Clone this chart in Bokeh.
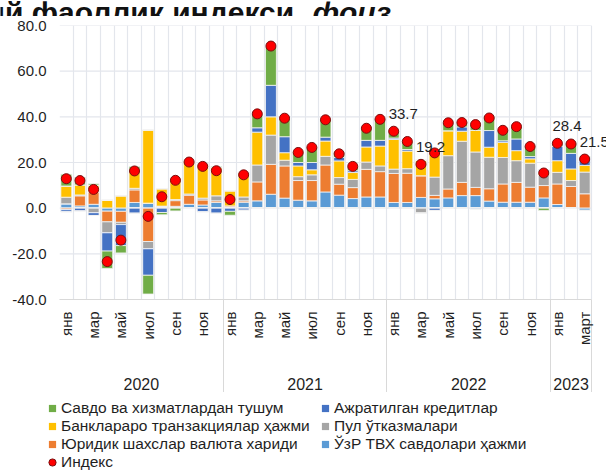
import math
import numpy as np
from bokeh.plotting import figure
from bokeh.models import (ColumnDataSource, Range1d, FixedTicker, LinearAxis, Legend,
                          LegendItem, LabelSet, Label, PrintfTickFormatter)
from bokeh.core.properties import value
from bokeh.embed import file_html
from bokeh.resources import INLINE

# ---------------- data ----------------
title_main = "Иқтисодий фаоллик индекси,"
title_unit = "фоиз"
month_labels = ["янв", "фев", "мар", "апр", "май", "июн", "июл", "авг", "сен", "окт", "ноя", "дек"] * 3 + ["янв", "фев", "март"]
years = ["2020", "2021", "2022", "2023"]
year_counts = [12, 12, 12, 3]

savdo = [5.2, 3.3, 0.6, -7.6, -3.2, 1.2, -8.2, -1.0, -1.2, 0.0, 0.0, 0.4,
         -1.7, 0.0, 5.8, 16.7, 7.9, 4.4, 6.6, 8.0, 2.2, 1.5, 5.8, 9.6,
         3.0, 3.6, 0.0, 0.0, 3.3, 1.9, 2.9, 6.0, 4.5, 5.8, 4.4, -1.0,
         1.3, 4.3, 0.6]
ajrat = [-0.9, -1.2, -1.2, -8.0, -9.2, -2.2, -11.6, -1.9, 0.0, 0.0, -1.6, -2.2,
         -1.4, -0.9, 1.9, 13.8, 7.0, 1.5, 3.2, 1.7, 1.5, 0.8, 2.9, 2.5,
         0.6, 0.7, 0.0, -1.0, 0.0, 1.9, -0.4, 7.3, 0.7, 5.1, 1.0, 1.0,
         6.3, 6.8, 3.3]
bank = [4.9, 4.4, 2.9, 3.5, 5.4, 8.3, 32.0, 7.6, 9.5, 14.3, 15.0, 12.4,
        6.6, 10.9, 14.4, 8.0, 3.3, 4.7, 2.2, 6.7, 7.3, 3.0, 6.6, 8.7,
        13.0, 7.7, 6.8, 11.6, 10.9, 4.4, 9.5, 4.4, 6.6, 4.4, 1.9, 1.5,
        5.1, 5.1, 2.9]
pul = [2.9, 0.4, -2.0, -4.8, -1.0, 0.7, -3.2, 0.2, 0.5, 0.5, 0.8, 2.2,
       0.0, 1.7, 7.4, 12.8, 2.5, 1.7, 2.5, 3.8, 2.9, 3.6, 3.2, 2.5,
       1.9, 2.0, -2.2, 8.0, 14.6, 18.0, 15.5, 13.8, 11.6, 9.5, 10.5, 4.4,
       5.1, 2.6, 9.5]
yurid = [-0.7, 4.4, 5.5, -4.7, -4.8, 5.5, -14.6, 0.3, 2.5, 4.0, 2.2, 0.7,
         0.7, 0.6, 8.3, 13.1, 14.1, 8.6, 8.9, 11.8, 4.8, 4.8, 12.1, 11.1,
         12.7, 12.8, 9.5, 1.5, 3.9, 5.8, 3.6, 5.4, 8.0, 8.7, 6.6, 5.4,
         9.0, 9.5, 6.3]
uzr = [1.9, 1.0, 1.7, -1.3, -1.4, 2.5, 2.2, 0.4, 0.8, 1.7, 1.4, 2.5,
       0.3, 2.6, 3.2, 6.1, 4.4, 3.5, 3.2, 7.1, 5.7, 4.2, 4.9, 4.9,
       2.5, 2.5, 4.7, 4.1, 4.5, 5.5, 5.5, 3.1, 2.6, 2.6, 2.6, 4.5,
       1.6, 0.0, -1.0]
index = [12.9, 12.1, 8.2, -23.4, -14.0, 16.3, -3.6, 5.0, 12.2, 20.2, 18.3, 16.4,
         3.8, 14.6, 41.3, 71.0, 39.4, 24.4, 26.6, 38.7, 23.8, 18.3, 35.0, 38.9,
         33.7, 29.2, 19.2, 24.2, 37.4, 37.5, 36.6, 39.5, 34.1, 35.7, 27.0, 15.4,
         28.4, 28.1, 21.5]
labelled_points = [24, 26, 36, 38]

y_ticks = [-40, -20, 0, 20, 40, 60, 80]

series_names = {
    "savdo": "Савдо ва хизматлардан тушум",
    "ajrat": "Ажратилган кредитлар",
    "bank": "Банклараро транзакциялар ҳажми",
    "pul": "Пул ўтказмалари",
    "yurid": "Юридик шахслар валюта хариди",
    "uzr": "ЎзР ТВХ савдолари ҳажми",
}
series_values = {"savdo": savdo, "ajrat": ajrat, "bank": bank, "pul": pul, "yurid": yurid, "uzr": uzr}
colors = {"savdo": "#70AD47", "ajrat": "#4472C4", "bank": "#FFC000",
          "pul": "#A5A5A5", "yurid": "#ED7D31", "uzr": "#5B9BD5"}
stack_order = ["uzr", "yurid", "pul", "bank", "ajrat", "savdo"]
legend_order = ["savdo", "ajrat", "bank", "pul", "yurid", "uzr"]

FONT = "Liberation Sans"
TXT = "#1f1f1f"
GRID = "#e3e6ec"
n = len(month_labels)

# ---------------- title strip (top of the title is cut off, as in the source) ----------------
pt = figure(width=606, height=16, x_range=Range1d(0, 1), y_range=Range1d(0, 1),
            output_backend="svg", toolbar_location=None,
            x_axis_location=None, y_axis_location=None, min_border=0)
pt.grid.visible = False
pt.outline_line_color = None
pt.add_layout(Label(x=302, y=4, x_units="screen", y_units="screen", text=title_main,
                    text_font=FONT, text_font_size="30px", text_font_style="bold",
                    text_color="#111111", text_baseline="alphabetic", text_align="right"))
pt.add_layout(Label(x=312, y=4, x_units="screen", y_units="screen", text=title_unit,
                    text_font=FONT, text_font_size="30px", text_font_style="bold italic",
                    text_color="#111111", text_baseline="alphabetic", text_align="left"))

# ---------------- main chart ----------------
data = {"x": list(range(n))}
for k in stack_order:
    data["p_" + k] = [max(v, 0.0) for v in series_values[k]]
    data["n_" + k] = [min(v, 0.0) for v in series_values[k]]
src = ColumnDataSource(data)

p = figure(width=606, height=376, x_range=Range1d(-0.5, n + 0.6), y_range=Range1d(-40, 80),
           output_backend="svg", toolbar_location=None,
           min_border_left=59, min_border_right=0, min_border_top=9, min_border_bottom=0)
p.outline_line_color = None
p.background_fill_color = "white"

# horizontal grid lines, limited to the category span
p.segment(x0=-0.5, x1=n - 0.5, y0=y_ticks, y1=y_ticks, line_color=GRID, line_width=1.2)

p.vbar_stack(["p_" + k for k in stack_order], x="x", width=0.8, source=src,
             fill_color=[colors[k] for k in stack_order], line_color="#f4f4f4", line_width=0.8)
p.vbar_stack(["n_" + k for k in stack_order], x="x", width=0.8, source=src,
             fill_color=[colors[k] for k in stack_order], line_color="#f4f4f4", line_width=0.8)

idx_r = p.scatter(x=list(range(n)), y=index, size=10, marker="circle",
                  fill_color="#FF0000", line_color="#7a1010", line_width=1)

lab_src = ColumnDataSource(dict(x=labelled_points, y=[index[i] for i in labelled_points],
                                t=["%.1f" % index[i] for i in labelled_points]))
p.add_layout(LabelSet(x="x", y="y", text="t", source=lab_src, x_offset=-5, y_offset=17,
                      text_font=value(FONT), text_font_size="15px", text_color=TXT,
                      text_baseline="middle", text_align="left"))

# vertical grid between categories
p.ygrid.visible = False
p.xgrid.ticker = FixedTicker(ticks=[i - 0.5 for i in range(n + 1)])
p.xgrid.grid_line_color = GRID
p.xgrid.grid_line_width = 1.2

# y axis
ya = p.yaxis[0]
ya.ticker = FixedTicker(ticks=y_ticks)
ya.formatter = PrintfTickFormatter(format="%.1f")
ya.axis_line_color = None
ya.major_tick_line_color = None
ya.minor_tick_line_color = None
ya.major_tick_out = 0
ya.major_label_standoff = 13
ya.major_label_text_font = FONT
ya.major_label_text_font_size = "15px"
ya.major_label_text_color = TXT

# month axis (minor ticks draw the year separators)
tick_pos = [i for i in range(n) if i % 2 == 0]
starts = list(np.cumsum([0] + year_counts))
sep_pos = [float(s) - 0.5 for s in starts[1:]]
xa = p.xaxis[0]
xa.bounds = (-0.5, n - 0.5)
xa.ticker = FixedTicker(ticks=tick_pos, minor_ticks=sep_pos)
xa.major_label_overrides = {i: month_labels[i] for i in tick_pos}
xa.major_label_orientation = math.pi / 2
xa.major_tick_line_color = None
xa.major_tick_out = 0
xa.major_tick_in = 0
xa.minor_tick_in = 0
xa.minor_tick_out = 94
xa.minor_tick_line_color = "#d9d9d9"
xa.axis_line_color = "#d9d9d9"
xa.major_label_standoff = -82
xa.major_label_text_font = FONT
xa.major_label_text_font_size = "15px"
xa.major_label_text_color = TXT

# year axis
centers = [float(starts[j]) + (year_counts[j] - 1) / 2 for j in range(len(years))]
ov = {}
for c, yname in zip(centers, years):
    ov[int(c) if float(c).is_integer() else float(c)] = yname
year_axis = LinearAxis(ticker=FixedTicker(ticks=centers), major_label_overrides=ov,
                       major_tick_line_color=None, major_tick_out=0, major_tick_in=0,
                       minor_tick_line_color=None, axis_line_color=None,
                       major_label_standoff=29, major_label_text_font=FONT,
                       major_label_text_font_size="16px", major_label_text_color=TXT)
p.add_layout(year_axis, "below")

# ---------------- legend strip ----------------
pl = figure(width=606, height=79, x_range=Range1d(0, 1), y_range=Range1d(0, 1),
            output_backend="svg", toolbar_location=None,
            x_axis_location=None, y_axis_location=None, min_border=0)
pl.grid.visible = False
pl.outline_line_color = None
items = []
for k in legend_order:
    r = pl.scatter(x=[np.nan], y=[np.nan], marker="square", size=8,
                   fill_color=colors[k], line_color=None)
    items.append(LegendItem(label=series_names[k], renderers=[r]))
ri = pl.scatter(x=[np.nan], y=[np.nan], marker="circle", size=9,
                fill_color="#FF0000", line_color="#7a1010", line_width=1)
items.append(LegendItem(label="Индекс", renderers=[ri]))
legend = Legend(items=items, orientation="horizontal", ncols=2, location=(43, 0),
                glyph_width=18, glyph_height=18, label_height=18, label_width=255,
                label_standoff=0, spacing=0, padding=0, margin=0, border_line_color=None,
                background_fill_alpha=0, label_text_font=FONT,
                label_text_font_size="15.5px", label_text_color=TXT)
pl.add_layout(legend, "center")

open("out.html", "w").write(file_html([pt, p, pl], INLINE))
